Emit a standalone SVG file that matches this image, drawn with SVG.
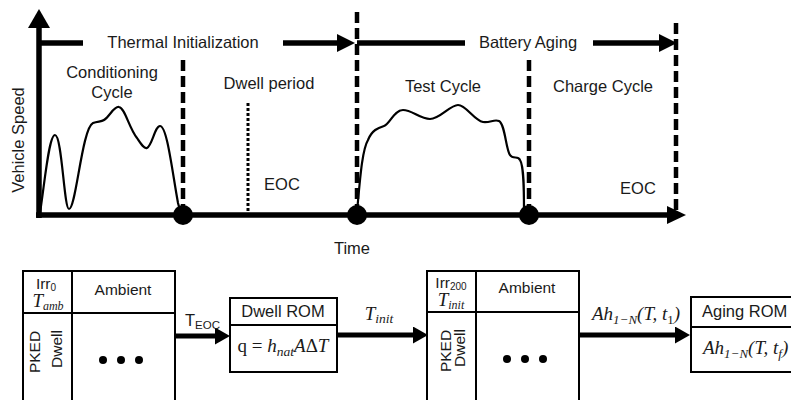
<svg xmlns="http://www.w3.org/2000/svg" width="791" height="400" viewBox="0 0 791 400">
<style>
.t{font-family:"Liberation Sans",Arial,sans-serif;fill:#1a1a1a;font-size:16.5px}
.s{font-family:"Liberation Sans",Arial,sans-serif;fill:#1a1a1a;font-size:15.5px}
.m{font-family:"Liberation Serif","DejaVu Serif",serif;font-style:italic;fill:#1a1a1a;font-size:19px}
.axis{stroke:#000;stroke-width:5.5;fill:none}
.dash{stroke:#000;stroke-width:4.5;stroke-dasharray:11 5;fill:none}
.dot{stroke:#000;stroke-width:3;stroke-dasharray:3 2;fill:none}
.curve{stroke:#000;stroke-width:2.2;fill:none}
.box{stroke:#000;stroke-width:2;fill:#fff}
.ln{stroke:#000;stroke-width:2;fill:none}
.con{stroke:#000;stroke-width:5;fill:none}
.head{fill:#000}
</style>
<defs>
<marker id="ah" markerUnits="userSpaceOnUse" markerWidth="16" markerHeight="17" refX="1" refY="8.5" orient="auto">
<path d="M0,0 L15,8.5 L0,17 z" fill="#000"/>
</marker>
</defs>
<rect width="791" height="400" fill="#fff"/>

<g id="chart">
<line class="axis" x1="39" y1="218" x2="39" y2="26"/>
<polygon class="head" points="39,9 50,28 28,28"/>
<line class="axis" x1="36" y1="215" x2="668" y2="215"/>
<polygon class="head" points="686,215 667,206 667,224"/>
<line class="dash" x1="183" y1="60" x2="183" y2="215"/>
<line class="dash" x1="357" y1="12" x2="357" y2="215"/>
<line class="dash" x1="529" y1="60" x2="529" y2="215"/>
<line class="dash" x1="676" y1="23" x2="676" y2="215"/>
<line class="dot" x1="248" y1="103" x2="248" y2="215"/>
<path class="curve" d="M40,213 C45,180 49,135 55,135 C62,135 64,209 69,209 C76,209 82,128 93,123 C98,121 101,122 104,120 C110,116 114,106 119,107 C125,108 129,128 137,138 C141,144 144,149 147,148 C152,146 155,126 160,126 C167,126 172,170 178,203 L181,214"/>
<path class="curve" d="M357,212 C360,180 362,150 368,140 C372,130 378,128 384,126 C390,124 394,110 403,110 C412,110 420,119 430,119 C440,119 450,105 458,105 C466,105 474,120 483,122 C490,123 494,119 499,121 C505,124 506,150 510,155 C513,160 518,155 520,160 C524,166 524,190 524,212"/>
<circle cx="183" cy="215" r="10" fill="#000"/>
<circle cx="357" cy="215" r="10" fill="#000"/>
<circle cx="529" cy="215" r="10" fill="#000"/>
<text class="t" x="24" y="140" text-anchor="middle" transform="rotate(-90 24 140)">Vehicle Speed</text>
<text class="t" x="352" y="254" text-anchor="middle">Time</text>
</g>

<g id="phases">
<line class="axis" x1="37" y1="43" x2="83" y2="43"/>
<line class="axis" x1="283" y1="43" x2="338" y2="43"/>
<polygon class="head" points="355,43 337,34 337,52"/>
<text class="t" x="183" y="48" text-anchor="middle">Thermal Initialization</text>
<line class="axis" x1="357" y1="43" x2="465" y2="43"/>
<line class="axis" x1="593" y1="43" x2="660" y2="43"/>
<polygon class="head" points="677,43 659,34 659,52"/>
<text class="t" x="528" y="48" text-anchor="middle">Battery Aging</text>
</g>

<g id="labels">
<text class="t" x="112" y="78" text-anchor="middle">Conditioning</text>
<text class="t" x="112" y="98" text-anchor="middle">Cycle</text>
<text class="t" x="269" y="89" text-anchor="middle">Dwell period</text>
<text class="t" x="282" y="190" text-anchor="middle">EOC</text>
<text class="t" x="443" y="92" text-anchor="middle">Test Cycle</text>
<text class="t" x="603" y="92" text-anchor="middle">Charge Cycle</text>
<text class="t" x="638" y="194" text-anchor="middle">EOC</text>
</g>

<g id="connectors">
<line class="con" x1="175" y1="336" x2="216" y2="336" marker-end="url(#ah)"/>
<line class="con" x1="337" y1="335" x2="414" y2="335" marker-end="url(#ah)"/>
<line class="con" x1="579" y1="335" x2="676" y2="335" marker-end="url(#ah)"/>
<text class="t" x="185" y="326">T<tspan font-size="11.5" dy="3">EOC</tspan></text>
<text class="m" x="379" y="320" text-anchor="middle">T<tspan font-size="13.5" dy="3">init</tspan></text>
<text class="m" x="592" y="320">Ah<tspan font-size="13" dy="4">1−N</tspan><tspan dy="-4">(T, t</tspan><tspan font-size="13" dy="4" font-style="normal">1</tspan><tspan dy="-4">)</tspan></text>
</g>

<g id="table1">
<rect class="box" x="23" y="271" width="152" height="140"/>
<line class="ln" x1="72" y1="271" x2="72" y2="411"/>
<line class="ln" x1="23" y1="313" x2="175" y2="313"/>
<text class="s" x="46" y="289" text-anchor="middle">Irr<tspan font-size="10" dy="2">0</tspan></text>
<text class="m" x="48" y="307" text-anchor="middle" font-size="17">T<tspan font-size="12" dy="3">amb</tspan></text>
<text class="s" x="123" y="295" text-anchor="middle">Ambient</text>
<text class="s" x="40" y="352" text-anchor="middle" transform="rotate(-90 40 352)">PKED</text>
<text class="s" x="62" y="349" text-anchor="middle" transform="rotate(-90 62 349)">Dwell</text>
<circle cx="103" cy="360" r="4" fill="#000"/>
<circle cx="121" cy="360" r="4" fill="#000"/>
<circle cx="139" cy="360" r="4" fill="#000"/>
</g>

<g id="dwellROM">
<rect class="box" x="230" y="298" width="107" height="74"/>
<line class="ln" x1="230" y1="325" x2="337" y2="325"/>
<text class="t" x="283" y="317" text-anchor="middle">Dwell ROM</text>
<text class="m" x="283" y="352" text-anchor="middle" font-size="19.5"><tspan font-style="normal">q = </tspan>h<tspan font-size="13.5" dy="4">nat</tspan><tspan dy="-4">A</tspan><tspan font-style="normal">Δ</tspan>T</text>
</g>

<g id="table2">
<rect class="box" x="427" y="271" width="152" height="140"/>
<line class="ln" x1="476" y1="271" x2="476" y2="411"/>
<line class="ln" x1="427" y1="312" x2="579" y2="312"/>
<text class="s" x="451" y="288" text-anchor="middle">Irr<tspan font-size="10" dy="2">200</tspan></text>
<text class="m" x="451" y="306" text-anchor="middle" font-size="17">T<tspan font-size="12" dy="3">init</tspan></text>
<text class="s" x="527" y="293" text-anchor="middle">Ambient</text>
<text class="s" x="451" y="351" text-anchor="middle" transform="rotate(-90 451 351)">PKED</text>
<text class="s" x="465" y="348" text-anchor="middle" transform="rotate(-90 465 348)">Dwell</text>
<circle cx="507" cy="359" r="4" fill="#000"/>
<circle cx="525" cy="359" r="4" fill="#000"/>
<circle cx="543" cy="359" r="4" fill="#000"/>
</g>

<g id="agingROM">
<rect class="box" x="691" y="297" width="120" height="75"/>
<line class="ln" x1="691" y1="327" x2="811" y2="327"/>
<text class="t" x="702" y="317">Aging ROM</text>
<text class="m" x="703" y="354">Ah<tspan font-size="13" dy="4">1−N</tspan><tspan dy="-4">(T, t</tspan><tspan font-size="13" dy="4">f</tspan><tspan dy="-4">)</tspan></text>
</g>
</svg>
